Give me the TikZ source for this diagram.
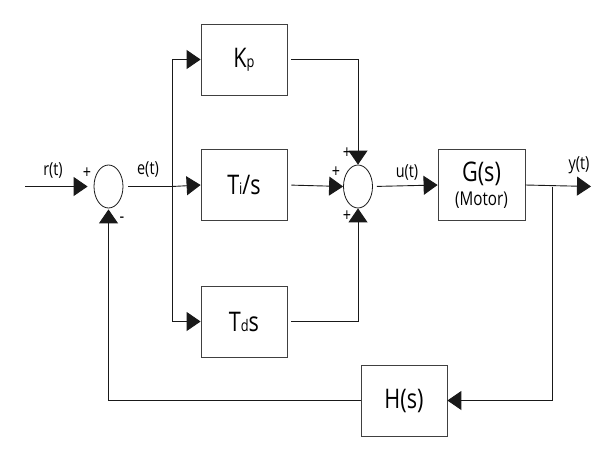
\documentclass[tikz,border=0pt]{standalone}
\usepackage{fontspec}
\setmainfont{Open Sans}[FakeStretch=0.8]
\usetikzlibrary{shapes.geometric,arrows.meta}
\newcommand{\smallsub}[1]{{\fontsize{16}{16}\selectfont #1}}
\begin{document}
\begin{tikzpicture}[x=1pt,y=-1pt,
  blk/.style={draw=black!75,line width=0.8pt,minimum width=86pt,minimum height=71pt,inner sep=0pt,font=\fontsize{27}{29}\selectfont},
  sumnode/.style={draw=black!90,ellipse,minimum width=29pt,minimum height=43pt,inner sep=0pt,line width=0.8pt},
  sig/.style={draw=black!90,line width=0.9pt,-{Triangle[length=14pt,width=19pt]}},
  wire/.style={draw=black!90,line width=0.9pt},
  lbl/.style={font=\fontsize{18}{20}\selectfont,inner sep=0pt},
  sgn/.style={font=\fontsize{18}{18}\selectfont,inner sep=0pt}]
\useasboundingbox[fill=white] (0,0) rectangle (613,450);
% summing junctions
\node[sumnode] (s1) at (108.5,186.5) {};
\node[sumnode] (s2) at (358,186.5) {};
% blocks
\node[blk] (kp) at (244,59.5) {K\smallsub{p}};
\node[blk] (ti) at (244,185) {T\smallsub{i}/s};
\node[blk] (td) at (244,321.5) {T\smallsub{d}s};
\node[blk,minimum width=87pt,align=center] (g) at (481.5,185) {G(s)\\[-5pt]{\fontsize{19}{21}\selectfont (Motor)}};
\node[blk] (h) at (404,400.5) {H(s)};
% coordinates
\coordinate (in) at (25,186.5);
\coordinate (br) at (172,186.5);
\coordinate (brk) at (172,59.5);
\coordinate (brd) at (172,321.5);
\coordinate (out) at (591,186.5);
\coordinate (fb) at (552,186.5);
\coordinate (fbd) at (552,400.5);
\coordinate (fbl) at (108.5,400.5);
\coordinate (kpc) at (358,59.5);
\coordinate (tdc) at (358,321.5);
% connectors
\draw[sig,shorten >=6pt] (in) -- (s1.west);
\draw[wire,shorten <=5pt] (s1.east) -- (br);
\draw[wire] (brk) -- (brd);
\draw[sig] (brk) -- (kp.west);
\draw[sig] (br) -- (ti.west);
\draw[sig] (brd) -- (td.west);
\draw[sig,shorten <=4pt] (kp.east) -- (kpc) -- (s2.north);
\draw[sig,shorten <=4pt] (ti.east) -- (s2.west);
\draw[sig,shorten <=4pt] (td.east) -- (tdc) -- (s2.south);
\draw[sig,shorten <=4pt] (s2.east) -- (g.west);
\draw[sig] (g.east) -- (out);
\draw[sig] (fb) -- (fbd) -- (h.east);
\draw[sig,shorten >=1pt] (h.west) -- (fbl) -- (s1.south);
% labels
\node[lbl] (lr) at (53,170) {r(t)};
\node[lbl] (le) at (148,169) {e(t)};
\node[lbl] (lu) at (407,172) {u(t)};
\node[lbl] (ly) at (579,165) {y(t)};
\node[sgn] (p1) at (87,173) {+};
\node[sgn] (m1) at (122,220) {-};
\node[sgn] (p2) at (347,153) {+};
\node[sgn] (p3) at (336,172) {+};
\node[sgn] (p4) at (347,216) {+};
\end{tikzpicture}
\end{document}
